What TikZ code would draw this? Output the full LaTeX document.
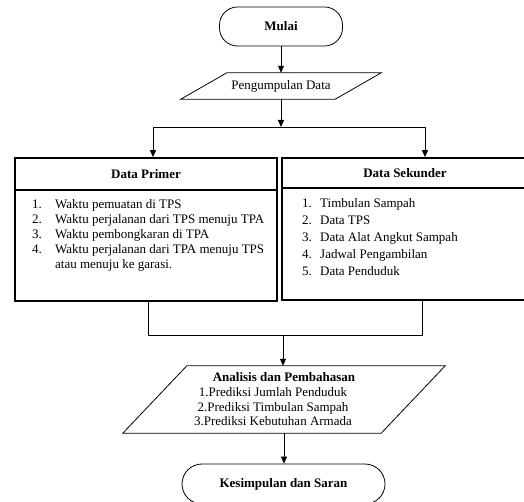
\documentclass[tikz,border=0pt]{standalone}
\usepackage{fontspec}
\setmainfont{Liberation Serif}
\usetikzlibrary{arrows.meta,calc}
\begin{document}
\begin{tikzpicture}[x=1pt,y=-1pt,
  line/.style={line width=0.8pt},
  arr/.style={line width=0.8pt,-{Triangle[length=7pt,width=6pt]}},
  term/.style={draw,line width=0.8pt,rounded corners=18pt,inner sep=0pt,font=\fontsize{13}{15}\selectfont\bfseries},
  thickbox/.style={draw,line width=1.8pt,inner sep=0pt},
  hdr/.style={thickbox,font=\fontsize{13}{15}\selectfont\bfseries},
  txt/.style={font=\fontsize{13}{15}\selectfont,inner sep=0pt},
]
\useasboundingbox (0,0) rectangle (524,502);

% start
\node[term, minimum width=123pt, minimum height=39pt] (start) at (281,26.5) {Mulai};

% data collection (parallelogram)
\node[txt, minimum width=154pt, minimum height=26pt] (pd) at (281,86) {Pengumpulan Data};
\draw[line] ($(pd.south west)+(-23,0)$) -- ($(pd.south east)+(-23,0)$) -- ($(pd.north east)+(23,0)$) -- ($(pd.north west)+(23,0)$) -- cycle;

% primary data
\node[hdr, minimum width=262pt, minimum height=32pt] (hdrP) at (146,174) {Data Primer};
\node[thickbox, minimum width=262pt, minimum height=111pt] (bodyP) at (146,245.5) {};
\node[txt, anchor=base west] (listP) at (32,209) {\begin{tabular}[t]{@{}p{23pt}@{}l@{}}
1. & Waktu pemuatan di TPS\\
2. & Waktu perjalanan dari TPS menuju TPA\\
3. & Waktu pembongkaran di TPA\\
4. & Waktu perjalanan dari TPA menuju TPS\\
   & atau menuju ke garasi.
\end{tabular}};

% secondary data
\node[hdr, minimum width=246pt, minimum height=30pt] (hdrS) at (405,173) {Data Sekunder};
\node[thickbox, minimum width=246pt, minimum height=112pt] (bodyS) at (405,244) {};
\node[txt, font=\fontsize{13}{17}\selectfont, anchor=base west] (listS) at (302,207.5) {\begin{tabular}[t]{@{}p{18pt}@{}l@{}}
1. & Timbulan Sampah\\
2. & Data TPS\\
3. & Data Alat Angkut Sampah\\
4. & Jadwal Pengambilan\\
5. & Data Penduduk
\end{tabular}};

% analysis (parallelogram)
\node[txt, font=\fontsize{13}{14.7}\selectfont, minimum width=258pt, minimum height=67pt, align=center] (an) at (284,399.5) {\textbf{Analisis dan Pembahasan}\\
\hspace*{-22pt}1.Prediksi Jumlah Penduduk\\
\hspace*{-22pt}2.Prediksi Timbulan Sampah\\
\hspace*{-22pt}3.Prediksi Kebutuhan Armada};
\draw[line] ($(an.south west)+(-32,0)$) -- ($(an.south east)+(-32,0)$) -- ($(an.north east)+(32,0)$) -- ($(an.north west)+(32,0)$) -- cycle;

% end
\node[term, rounded corners=20pt, minimum width=203pt, minimum height=40pt] (end) at (283.5,484) {Kesimpulan dan Saran};

% connectors
\coordinate (j1) at (281,127);
\coordinate (jL) at (153,127);
\coordinate (jR) at (425,127);
\draw[arr] (start.south) -- (start.south |- pd.north);
\draw[arr] (pd.south) -- (j1);
\draw[line] (jL) -- (jR);
\draw[arr] (jL) -- (jL |- hdrP.north);
\draw[arr] (jR) -- (jR |- hdrS.north);

\coordinate (mL) at (148,335);
\coordinate (mR) at (422,335);
\coordinate (mC) at (283,335);
\draw[line] (mL |- bodyP.south) -- (mL) -- (mR) -- (mR |- bodyS.south);
\draw[arr] (mC) -- (mC |- an.north);
\draw[arr] (an.south) -- (an.south |- end.north);
\end{tikzpicture}
\end{document}
